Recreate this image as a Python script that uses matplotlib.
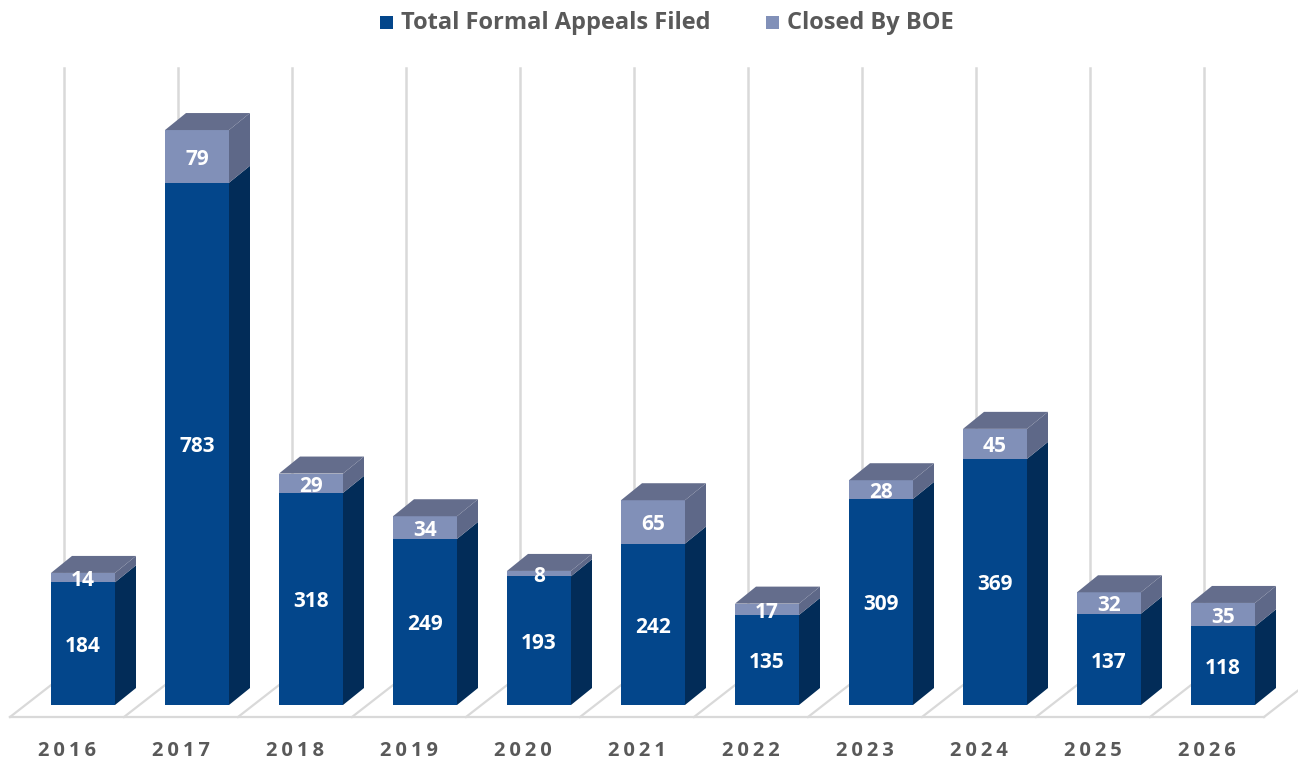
import matplotlib
matplotlib.use("Agg")
import matplotlib.pyplot as plt
from matplotlib.patches import Polygon, Rectangle

years = ["2016", "2017", "2018", "2019", "2020", "2021", "2022", "2023", "2024", "2025", "2026"]
filed = [184, 783, 318, 249, 193, 242, 135, 309, 369, 137, 118]
closed = [14, 79, 29, 34, 8, 65, 17, 28, 45, 32, 35]
series_names = ["Total Formal Appeals Filed", "Closed By BOE"]

W, H = 1298, 767
fig = plt.figure(figsize=(W / 100, H / 100), dpi=100)
ax = fig.add_axes([0, 0, 1, 1])
ax.set_axis_off()

# pixel scale: category step 114 px, 1 value unit = 0.667 px
cat_px = 114.0
val_px = 0.667
ax.set_xlim(-83 / cat_px, (W - 83) / cat_px)
ax.set_ylim(-62 / val_px, (H - 62) / val_px)

# colours
dark_front = "#03468B"
dark_side = "#022C58"
dark_top = "#3A4F7A"
light_front = "#8190B8"
light_side = "#5E6888"
light_top = "#646D8C"
grid_c = "#D9D9D9"
text_c = "#595959"

bar_w = 64 / cat_px
dx = 21 / cat_px
dy = 17 / val_px

# floor / gridlines
floor_front = -12 / val_px
floor_dx = 54 / cat_px
floor_dy = 42 / val_px
grid_top = (705 - 68) / val_px
b0 = (10 - 83) / cat_px
nb = len(years) + 1
ax.plot([b0, b0 + len(years)], [floor_front, floor_front], color=grid_c, lw=1.6, zorder=1)
for k in range(nb):
    b = b0 + k
    ax.plot([b, b + floor_dx], [floor_front, floor_front + floor_dy], color=grid_c, lw=1.6, zorder=1)
    ax.plot([b + floor_dx, b + floor_dx], [floor_front + floor_dy, grid_top], color=grid_c, lw=1.8, zorder=1)

font = ["Open Sans", "DejaVu Sans"]
lab_off = -3 / val_px

def box(x, y0, y1, front, side, top, draw_top, z):
    xl, xr = x - bar_w / 2, x + bar_w / 2
    ax.add_patch(Rectangle((xl, y0), bar_w, y1 - y0, facecolor=front, edgecolor="none", zorder=z))
    ax.add_patch(Polygon([(xr, y0), (xr, y1), (xr + dx, y1 + dy), (xr + dx, y0 + dy)],
                         closed=True, facecolor=side, edgecolor="none", zorder=z))
    if draw_top:
        ax.add_patch(Polygon([(xl, y1), (xr, y1), (xr + dx, y1 + dy), (xl + dx, y1 + dy)],
                             closed=True, facecolor=top, edgecolor="none", zorder=z))

for i, (f, c) in enumerate(zip(filed, closed)):
    z = 3
    box(i, 0, f, dark_front, dark_side, dark_top, False, z)
    box(i, f, f + c, light_front, light_side, light_top, True, z)
    ax.text(i, f / 2 + lab_off, str(f), color="white", fontsize=15, fontweight="bold",
            ha="center", va="center", family=font, zorder=5)
    ax.text(i, f + c / 2 + lab_off, str(c), color="white", fontsize=15, fontweight="bold",
            ha="center", va="center", family=font, zorder=5)
    label = "\u2009".join(years[i])
    ax.text(b0 + i + 0.5, (705 - 751) / val_px, label, color=text_c, fontsize=14.5,
            fontweight="bold", ha="center", va="center", family=font)

# legend
ly = (705 - 22) / val_px
def px2x(p):
    return (p - 83) / cat_px
sq = 13
for p0, col, name in [(380, dark_front, series_names[0]), (766, light_front, series_names[1])]:
    ax.add_patch(Rectangle((px2x(p0), ly - (sq / 2) / val_px), sq / cat_px, sq / val_px,
                           facecolor=col, edgecolor="none"))
    ax.text(px2x(p0 + 21), ly - 1 / val_px, name, color=text_c, fontsize=17, fontweight="bold",
            ha="left", va="center", family=font)

fig.savefig("out.png", dpi=100)
